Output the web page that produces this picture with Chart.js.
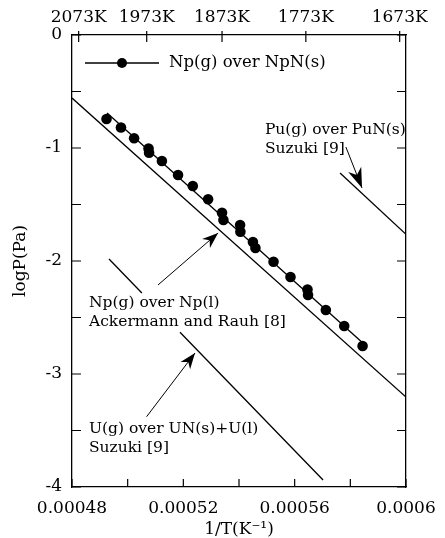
<!DOCTYPE html>
<html><head><meta charset="utf-8">
<script src="https://cdn.jsdelivr.net/npm/chart.js@4/dist/chart.umd.min.js"></script>
<style>html,body{margin:0;padding:0;background:#fff}#wrap{width:445px;height:538px}</style>
</head><body><div id="wrap"><canvas id="c"></canvas></div>
<script>
/* ===== DATA ===== */
// Np(g) over NpN(s), measured points
const invT=[0.0004924,0.0004976,0.0005023,0.0005075,0.0005077,0.0005123,0.0005181,0.0005234,0.0005289,0.0005339,0.0005344,
 0.0005404,0.0005405,0.0005450,0.0005459,0.0005524,0.0005585,0.0005646,0.0005648,0.0005712,0.0005778,0.0005844]
const logP=[-0.743,-0.819,-0.914,-1.004,-1.042,-1.115,-1.239,-1.336,-1.454,-1.573,-1.637,
 -1.681,-1.741,-1.832,-1.885,-2.006,-2.142,-2.252,-2.301,-2.434,-2.575,-2.752]
// fitted line through the points
const fitX=[0.0004926,0.0005853]
const fitY=[-0.690,-2.743]
// Np(g) over Np(l), Ackermann and Rauh
const npLiqX=[0.00048,0.0006]
const npLiqY=[-0.558,-3.204]
// Pu(g) over PuN(s), Suzuki
const puX=[0.0005763,0.0006]
const puY=[-1.221,-1.764]
// U(g) over UN(s)+U(l), Suzuki (broken where the label sits)
const uX=[0.0004933,0.0005051,0.000512,0.0005188,0.0005702]
const uY=[-1.982,-2.283,null,-2.631,-3.938]

const xTicks=[0.00048,0.0005,0.00052,0.00054,0.00056,0.00058,0.0006]
const xTickLabels=['0.00048','','0.00052','','0.00056','','0.0006']
const yTicks=[0,-0.5,-1,-1.5,-2,-2.5,-3,-3.5,-4]
const yTickLabels=['0','','-1','','-2','','-3','','-4']
const topTemps=[2073,1973,1873,1773,1673]

// annotation text (left x, middle y in data units) and arrows (tail -> tip)
const noteText=[['Pu(g) over PuN(s)','Suzuki [9]'],['Np(g) over Np(l)','Ackermann and Rauh [8]'],['U(g) over UN(s)+U(l)','Suzuki [9]']]
const noteX=[0.0005493,0.0004861,0.0004861]
const noteY=[-0.841,-2.372,-3.487]
const arrowFrom=[[0.0005784,-0.991],[0.0005109,-2.212],[0.0005068,-3.378]]
const arrowTo=[[0.0005842,-1.354],[0.0005325,-1.752],[0.0005242,-2.814]]
const legendLabel='Np(g) over NpN(s)'

/* ===== HELPERS ===== */
const pts=(xs,ys)=>xs.map((x,i)=>({x,y:ys[i]}))
const serif='"DejaVu Serif", serif'
const tickFont={family:serif,size:17}
const noteFont='15.5px '+serif

function head(ctx,x0,y0,x1,y1,len,half){
 const a=Math.atan2(y1-y0,x1-x0),c=Math.cos(a),s=Math.sin(a)
 const bx=x1-c*len,by=y1-s*len
 ctx.beginPath()
 ctx.moveTo(x1,y1)
 ctx.lineTo(bx-s*half,by+c*half)
 ctx.lineTo(x1-c*len*0.7,y1-s*len*0.7)
 ctx.lineTo(bx+s*half,by-c*half)
 ctx.closePath();ctx.fill()
}

/* ===== PLUGINS ===== */
const frame={id:'frame',afterDraw(ch){
 const {ctx,chartArea:a,scales:{x,x2,y}}=ch
 ctx.save();ctx.strokeStyle='#000';ctx.fillStyle='#000';ctx.lineWidth=1.2
 ctx.beginPath()
 x.ticks.forEach(t=>{const p=x.getPixelForValue(t.value);ctx.moveTo(p,a.bottom);ctx.lineTo(p,a.bottom-8)})
 x2.ticks.forEach(t=>{const p=x2.getPixelForValue(t.value);ctx.moveTo(p,a.top-4);ctx.lineTo(p,a.top+7)})
 y.ticks.forEach(t=>{const p=y.getPixelForValue(t.value);ctx.moveTo(a.left,p);ctx.lineTo(a.left+9,p);ctx.moveTo(a.right,p);ctx.lineTo(a.right-9,p)})
 ctx.stroke()

 // notes
 ctx.font=noteFont;ctx.textAlign='left';ctx.textBaseline='middle'
 noteText.forEach((lines,i)=>{
  const px=x.getPixelForValue(noteX[i]),py=y.getPixelForValue(noteY[i])
  lines.forEach((l,k)=>ctx.fillText(l,px,py+k*19))
 })
 // arrows
 ctx.lineWidth=1
 arrowFrom.forEach((f,i)=>{
  const x0=x.getPixelForValue(f[0]),y0=y.getPixelForValue(f[1])
  const x1=x.getPixelForValue(arrowTo[i][0]),y1=y.getPixelForValue(arrowTo[i][1])
  ctx.beginPath();ctx.moveTo(x0,y0);ctx.lineTo(x1,y1);ctx.stroke()
  if(i===0) head(ctx,x0,y0,x1,y1,20,7); else head(ctx,x0,y0,x1,y1,16,6)
 })
 // legend
 const ly=a.top+28
 ctx.lineWidth=1.3
 ctx.beginPath();ctx.moveTo(a.left+13,ly);ctx.lineTo(a.left+87,ly);ctx.stroke()
 ctx.beginPath();ctx.arc(a.left+50,ly,5,0,Math.PI*2);ctx.fill()
 ctx.font='16.5px '+serif
 ctx.fillText(legendLabel,a.left+97,ly)
 ctx.restore()
}}

/* ===== CHART ===== */
const line=(data)=>({data,showLine:true,pointRadius:0,borderColor:'#000',borderWidth:1.3,spanGaps:false})
const border={display:true,color:'#000',width:1.3}

new Chart(document.getElementById('c'),{
 type:'scatter',
 data:{datasets:[
  {data:pts(invT,logP),pointRadius:5.3,backgroundColor:'#000',borderWidth:0,showLine:false},
  line(pts(fitX,fitY)),
  line(pts(npLiqX,npLiqY)),
  line(pts(puX,puY)),
  line(pts(uX,uY))
 ]},
 options:{
  responsive:true,maintainAspectRatio:false,animation:false,devicePixelRatio:1,
  layout:{padding:0},
  plugins:{legend:{display:false},tooltip:{enabled:false}},
  scales:{
   x:{type:'linear',position:'bottom',min:0.00048,max:0.0006,
    afterBuildTicks:s=>{s.ticks=xTicks.map(v=>({value:v}))},
    afterFit:s=>{s.height=51;s.paddingLeft=0;s.paddingRight=0},
    grid:{display:false,drawTicks:false},border,
    ticks:{color:'#000',font:tickFont,padding:11,maxRotation:0,autoSkip:false,callback:(v,i)=>xTickLabels[i]},
    title:{display:true,text:'1/T(K⁻¹)',color:'#000',font:tickFont,padding:{top:0,bottom:-2}}},
   x2:{type:'linear',axis:'x',position:'top',min:0.00048,max:0.0006,
    afterBuildTicks:s=>{s.ticks=topTemps.map(T=>({value:1/T}))},
    afterFit:s=>{s.height=35;s.paddingLeft=0;s.paddingRight=0},
    grid:{display:false,drawTicks:false},border,
    ticks:{color:'#000',font:tickFont,padding:7,maxRotation:0,autoSkip:false,callback:(v,i)=>topTemps[i]+'K'}},
   y:{type:'linear',position:'left',min:-4,max:0,
    afterBuildTicks:s=>{s.ticks=yTicks.map(v=>({value:v}))},
    afterFit:s=>{s.width=72;s.paddingTop=0;s.paddingBottom=0},
    grid:{display:false,drawTicks:false},border,
    ticks:{color:'#000',font:tickFont,padding:10,autoSkip:false,callback:(v,i)=>yTickLabels[i]},
    title:{display:true,text:'logP(Pa)',color:'#000',font:tickFont,padding:{top:10,bottom:0}}},
   y2:{type:'linear',axis:'y',position:'right',min:-4,max:0,
    afterBuildTicks:s=>{s.ticks=yTicks.map(v=>({value:v}))},
    afterFit:s=>{s.width=39;s.paddingTop=0;s.paddingBottom=0},
    grid:{display:false,drawTicks:false},border,
    ticks:{display:false}}
  }
 },
 plugins:[frame]
})
</script></body></html>
